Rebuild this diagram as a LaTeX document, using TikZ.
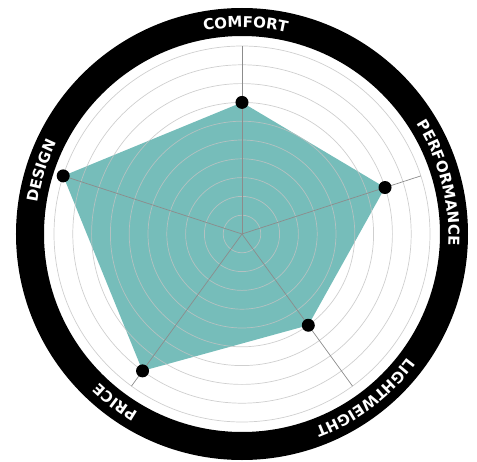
\documentclass[tikz,border=0pt]{standalone}
\usepackage{fontspec}
\usepackage{tikz}
\usetikzlibrary{decorations.text}
\newfontfamily\ringfont[LetterSpace=7]{DejaVu Sans}
\newcommand{\ringtext}{\ringfont\bfseries\fontsize{15}{17}\selectfont}
\definecolor{radarfill}{RGB}{118,189,186}
\definecolor{gridline}{RGB}{195,195,195}
\tikzset{
  gridcircle/.style={draw=gridline, opacity=.8, line width=.7pt},
  axisline/.style={draw=gray!90, line width=.7pt},
  dot/.style={circle, fill=black, inner sep=0pt, minimum size=13pt},
  ring/.style={draw=black, line width=28pt},
  ringlabel/.style={decorate, decoration={text along path, text align=center, text color=white}},
}

\begin{document}
\begin{tikzpicture}[x=1pt,y=1pt]
\useasboundingbox (-242,-227) rectangle (235,234);
\coordinate (c) at (0,0);
% axis ends and data points (one step = 18.8)
\foreach \a/\v/\n in {90/7/comfort, 18/8/performance, -54/6/lightweight, -126/9/price, 162/10/design}
{
  \coordinate (\n-end) at (\a:188);
  \coordinate (\n) at (\a:\v*18.8);
}
% the filled area
\fill[radarfill] (comfort) -- (performance) -- (lightweight) -- (price) -- (design) -- cycle;
% the grid
\foreach \r in {1,...,10}
  \draw[gridcircle] (c) circle[radius=\r*18.8];
\foreach \n in {comfort,performance,lightweight,price,design}
  \draw[axisline] (c) -- (\n-end);
% the dots
\foreach \n in {comfort,performance,lightweight,price,design}
  \node[dot] (\n-dot) at (\n) {};
% the ring and its labels
\draw[ring] (c) circle[radius=212];
\path[ringlabel, decoration={text={|\ringtext|COMFORT}}]
  (134:206.5) arc[start angle=134, end angle=44, radius=206.5];
\path[ringlabel, decoration={text={|\ringtext|PERFORMANCE}}]
  (59.5:206.5) arc[start angle=59.5, end angle=-30.5, radius=206.5];
\path[ringlabel, decoration={text={|\ringtext|LIGHTWEIGHT}}]
  (-8:206.5) arc[start angle=-8, end angle=-98, radius=206.5];
\path[ringlabel, decoration={text={|\ringtext|PRICE}}]
  (-82:206.5) arc[start angle=-82, end angle=-172, radius=206.5];
\path[ringlabel, decoration={text={|\ringtext|DESIGN}}]
  (207.5:206.5) arc[start angle=207.5, end angle=117.5, radius=206.5];
\end{tikzpicture}
\end{document}
